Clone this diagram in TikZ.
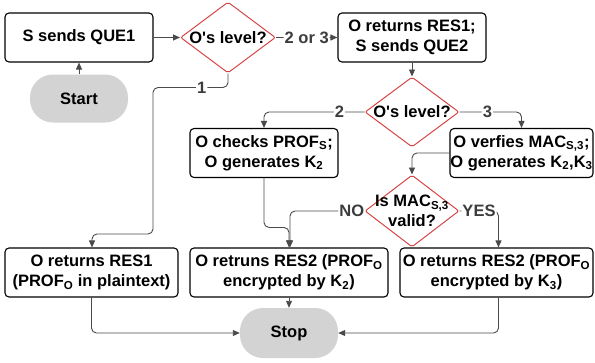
\documentclass[tikz,border=0pt]{standalone}
\usepackage{fontspec}
\setmainfont{Liberation Sans}
\usetikzlibrary{shapes.geometric,arrows.meta,calc}
\definecolor{linegray}{HTML}{4A4A4A}
\definecolor{labelgray}{HTML}{3C3C3C}
\definecolor{decred}{HTML}{D64545}
\definecolor{termgray}{HTML}{D3D3D3}
\begin{document}
\begin{tikzpicture}[x=1pt,y=-1pt,
  font=\fontsize{16.5}{20}\selectfont\bfseries,
  box/.style={draw=black, line width=1.1pt, rounded corners=4pt, inner sep=0pt,
              align=center, minimum height=49pt},
  term/.style={fill=termgray, rounded corners=23pt, minimum width=98pt,
               minimum height=48pt, inner sep=0pt},
  dia/.style={diamond, draw=decred, line width=1pt, inner sep=0pt,
              minimum width=95pt, minimum height=71pt, rounded corners=2pt},
  diatext/.style={align=center, inner sep=0pt},
  conn/.style={draw=linegray, line width=0.9pt, rounded corners=5pt,
               -{Triangle[length=7pt,width=6pt]}},
  lbl/.style={fill=white, text=labelgray, inner sep=1pt}]
\useasboundingbox (0,0) rectangle (595,362);

% process boxes
\node[box, minimum width=148pt] (que1)   at (79,37.5)   {S sends QUE1};
\node[box, minimum width=148pt] (res1q2) at (412,37.5)  {O returns RES1;\\S sends QUE2};
\node[box, minimum width=148pt] (chk)    at (264,153)   {O checks PROF\textsubscript{S};\\O generates K\textsubscript{2}};
\node[box, minimum width=143pt] (ver)    at (521.5,153) {O verfies MAC\textsubscript{S,3};\\O generates K\textsubscript{2},K\textsubscript{3}};
\node[box, minimum width=173pt] (ret1)   at (91.5,272.5) {O returns RES1\\(PROF\textsubscript{O} in plaintext)};
\node[box, minimum width=198pt] (ret2)   at (289,272.5) {O retruns RES2 (PROF\textsubscript{O}\\encrypted by K\textsubscript{2})};
\node[box, minimum width=193pt] (ret3)   at (496.5,272.5) {O returns RES2 (PROF\textsubscript{O}\\encrypted by K\textsubscript{3})};

% terminals
\node[term] (start) at (79,98.5) {Start};
\node[term, minimum height=50pt] (stop) at (289,333) {Stop};

% decisions
\node[dia] (lvl1) at (228,37.5) {};
\node[diatext] at (lvl1) {O\textquotesingle s level?};
\node[dia, minimum width=94pt, minimum height=70pt] (lvl2) at (412,112) {};
\node[diatext] at (lvl2) {O\textquotesingle s level?};
\node[dia, minimum width=94pt, minimum height=72pt] (mac) at (412,211) {};
\node[diatext] at (mac) {Is MAC\textsubscript{S,3}\\valid?};

% connectors
\draw[conn] (start.north) -- (que1.south);
\draw[conn] (que1.east) -- (lvl1.west);
\draw[conn] (lvl1.east) -- node[lbl] {2 or 3} (res1q2.west);
\draw[conn] (lvl1.south) -- ($(lvl1.south)+(0,14)$)
  -- node[lbl, pos=0.35] {1} (153,87.5) -- (153,234) -- (92,234) -- (ret1.north -| 92,0);
\draw[conn] (res1q2.south) -- (lvl2.north);
\draw[conn] (lvl2.west) -| node[lbl, pos=0.125] {2} (chk.north);
\draw[conn] (lvl2.east) -| node[lbl, pos=0.225] {3} (ver.north);
\draw[conn] (ver.west) -| (mac.north);
\draw[conn] (chk.south) |- ($(ret2.north)+(0,-20)$) -- (ret2.north);
\draw[conn] (mac.west) -| node[lbl, pos=0.085] {NO} ($(ret2.north)+(1,0)$);
\draw[conn] (mac.east) -| node[lbl, pos=0.25] {YES} ($(ret3.north)+(2,0)$);
\draw[conn] (ret1.south) |- (stop.west);
\draw[conn] (ret2.south) -- (stop.north);
\draw[conn] ($(ret3.south)+(2,0)$) |- (stop.east);
\end{tikzpicture}
\end{document}
